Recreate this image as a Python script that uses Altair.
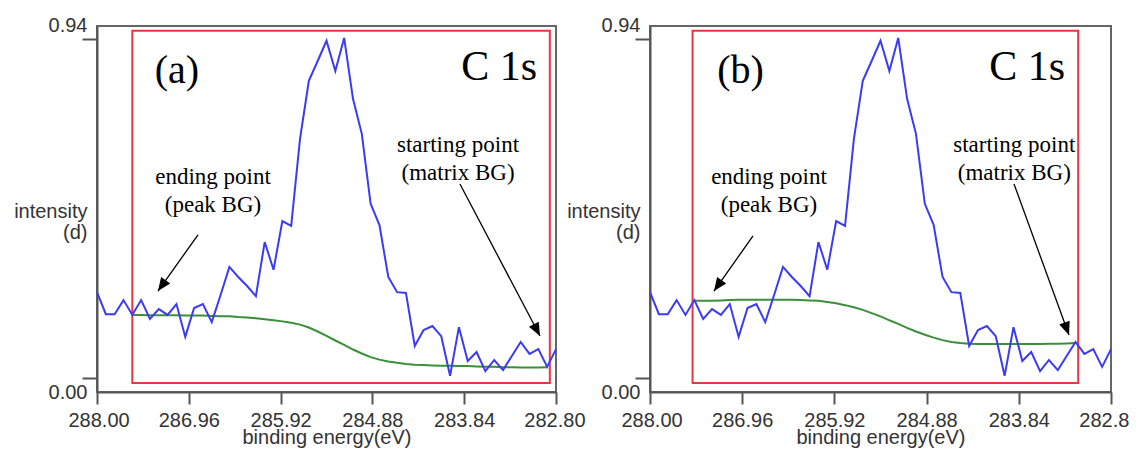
import math
import altair as alt
import pandas as pd

# ---- data ----
energy = [288.0, 287.9, 287.8, 287.7, 287.6, 287.5, 287.4, 287.3, 287.2, 287.1,
          287.0, 286.9, 286.8, 286.7, 286.6, 286.5, 286.4, 286.3, 286.2, 286.1,
          286.0, 285.9, 285.8, 285.7, 285.6, 285.5, 285.4, 285.3, 285.2, 285.1,
          285.0, 284.9, 284.8, 284.7, 284.6, 284.5, 284.4, 284.3, 284.2, 284.1,
          284.0, 283.9, 283.8, 283.7, 283.6, 283.5, 283.4, 283.3, 283.2, 283.1,
          283.0, 282.9, 282.8]
intensity = [0.238, 0.177, 0.177, 0.216, 0.175, 0.216, 0.164, 0.191, 0.175, 0.205,
             0.114, 0.194, 0.205, 0.155, 0.230, 0.308, 0.280, 0.255, 0.227, 0.377,
             0.300, 0.435, 0.422, 0.663, 0.824, 0.879, 0.935, 0.851, 0.943, 0.774,
             0.677, 0.483, 0.424, 0.280, 0.238, 0.236, 0.089, 0.133, 0.144, 0.116,
             0.006, 0.141, 0.047, 0.072, 0.019, 0.050, 0.022, 0.061, 0.100, 0.067,
             0.080, 0.031, 0.080]

# background (a): from 287.6 to 282.9 eV
bg_a_energy = energy[4:52]
bg_a = [0.175, 0.175, 0.174, 0.174, 0.174, 0.174, 0.173, 0.173, 0.173, 0.172,
        0.171, 0.171, 0.169, 0.168, 0.166, 0.163, 0.160, 0.157, 0.153, 0.148,
        0.140, 0.129, 0.117, 0.104, 0.092, 0.079, 0.068, 0.058, 0.051, 0.046,
        0.042, 0.039, 0.037, 0.036, 0.035, 0.034, 0.034, 0.033, 0.033, 0.032,
        0.031, 0.031, 0.030, 0.030, 0.029, 0.029, 0.029, 0.030]
# background (b): from 287.5 to 283.2 eV
bg_b_energy = energy[5:49]
bg_b = [0.214, 0.214, 0.214, 0.215, 0.216, 0.217, 0.217, 0.217, 0.217, 0.217,
        0.217, 0.217, 0.216, 0.215, 0.214, 0.211, 0.207, 0.202, 0.196, 0.189,
        0.180, 0.171, 0.160, 0.150, 0.139, 0.129, 0.120, 0.112, 0.105, 0.100,
        0.097, 0.095, 0.094, 0.094, 0.094, 0.094, 0.094, 0.094, 0.094, 0.094,
        0.095, 0.095, 0.096, 0.097]

x_ticks = [288.00, 286.96, 285.92, 284.88, 283.84, 282.80]
y_ticks = [0.00, 0.94]

range_a = [287.60, 282.87]
range_b = [287.52, 283.17]
range_I = [-0.014, 0.963]

panel_tags = ["(a)", "(b)"]
tag_E = [287.094, 286.979]
tag_I = [0.851, 0.851]
element = "C 1s"
element_E = [283.015, 283.319]
element_I = [0.862, 0.862]
notes = ["ending point\n(peak BG)", "starting point\n(matrix BG)"]
notes_E_a = [286.686, 283.910]
notes_E_b = [286.658, 283.891]
notes_I = [0.557, 0.647]

arrow_a_from_E = [286.856, 283.888]
arrow_a_from_I = [0.397, 0.538]
arrow_a_to_E = [287.309, 282.981]
arrow_a_to_I = [0.241, 0.1165]
arrow_b_from_E = [286.838, 283.894]
arrow_b_from_I = [0.394, 0.538]
arrow_b_to_E = [287.278, 283.274]
arrow_b_to_I = [0.241, 0.119]

# ---- styling ----
X_DOMAIN = [282.8, 288.0]
Y_DOMAIN = [-0.0388, 0.976]
PLOT_H = 366
BLUE = "#3b3bf2"
GREEN = "#3a8f3a"
RED = "#ee3344"
SANS = "Liberation Sans"
SERIF = "Liberation Serif"
ARROW_PATH = "M0,0L-0.42,1L0.42,1Z"


def build_panel(width, bg_E, bg_I, rng, tag, tE, tI, eE, eI, nE, aFE, aFI, aTE, aTI):
    xs = alt.Scale(domain=X_DOMAIN, reverse=True, nice=False, zero=False)
    ys = alt.Scale(domain=Y_DOMAIN, nice=False, zero=False)
    x_axis = alt.Axis(values=x_ticks, format=".2f", title="binding energy(eV)",
                      tickSize=12, labelPadding=6, titlePadding=-3,
                      labelFlush=True, labelFlushOffset=29,
                      labelOverlap=False, grid=False)
    y_axis = alt.Axis(values=y_ticks, format=".2f", title=["intensity", "(d)"],
                      titleAngle=0, titleAlign="right", titleBaseline="alphabetic",
                      titleX=-10, titleY=191, titleLineHeight=21,
                      tickSize=15, labelPadding=-5, labelBaseline="middle",
                      labelOffset={"condition": {"test": "datum.value > 0.5", "value": -13},
                                   "value": 14},
                      labelFlush=False, labelOverlap=False, grid=False)
    X = lambda f: alt.X(f, type="quantitative", scale=xs, axis=x_axis)
    Y = lambda f: alt.Y(f, type="quantitative", scale=ys, axis=y_axis)

    spec_df = pd.DataFrame({"E": energy, "I": intensity})
    bg_df = pd.DataFrame({"E": bg_E, "I": bg_I})
    rect_df = pd.DataFrame({"E": [rng[0]], "E2": [rng[1]], "I": [range_I[0]], "I2": [range_I[1]]})

    px_E = width / (X_DOMAIN[1] - X_DOMAIN[0])
    px_I = PLOT_H / (Y_DOMAIN[1] - Y_DOMAIN[0])
    angles = []
    for fe, fi, te, ti in zip(aFE, aFI, aTE, aTI):
        dx = (fe - te) * px_E
        dy = (fi - ti) * px_I
        angles.append(math.degrees(math.atan2(dx, -dy)) % 360)
    arr_df = pd.DataFrame({"E": aFE, "I": aFI, "E2": aTE, "I2": aTI, "ang": angles})
    tip_df = pd.DataFrame({"E": aTE, "I": aTI, "ang": angles})

    tag_df = pd.DataFrame({"E": [tE], "I": [tI], "t": [tag]})
    el_df = pd.DataFrame({"E": [eE], "I": [eI], "t": [element]})
    note_df = pd.DataFrame({"E": nE, "I": notes_I, "t": notes})

    rect = alt.Chart(rect_df).mark_rect(fill="transparent", stroke=RED, strokeWidth=2).encode(
        x=X("E"), x2="E2", y=Y("I"), y2="I2")
    green = alt.Chart(bg_df).mark_line(color=GREEN, strokeWidth=2).encode(x=X("E"), y=Y("I"))
    blue = alt.Chart(spec_df).mark_line(color=BLUE, strokeWidth=2).encode(x=X("E"), y=Y("I"))
    rules = alt.Chart(arr_df).mark_rule(color="black", strokeWidth=1.3).encode(
        x=X("E"), x2="E2", y=Y("I"), y2="I2")
    heads = alt.Chart(tip_df).mark_point(shape=ARROW_PATH, filled=True, color="black",
                                         opacity=1, size=700).encode(
        x=X("E"), y=Y("I"), angle=alt.Angle("ang:Q", scale=None))
    tag_t = alt.Chart(tag_df).mark_text(font=SERIF, fontSize=40, align="center",
                                        baseline="middle", color="black").encode(
        x=X("E"), y=Y("I"), text="t:N")
    el_t = alt.Chart(el_df).mark_text(font=SERIF, fontSize=42, align="right",
                                      baseline="middle", color="black").encode(
        x=X("E"), y=Y("I"), text="t:N")
    note_t = alt.Chart(note_df).mark_text(font=SERIF, fontSize=23, align="center",
                                          baseline="middle", lineBreak="\n",
                                          lineHeight=28, color="black").encode(
        x=X("E"), y=Y("I"), text="t:N")
    return alt.layer(rect, green, blue, rules, heads, tag_t, el_t, note_t).properties(
        width=width, height=PLOT_H)


panel_a = build_panel(459, bg_a_energy, bg_a, range_a, panel_tags[0], tag_E[0], tag_I[0],
                      element_E[0], element_I[0], notes_E_a,
                      arrow_a_from_E, arrow_a_from_I, arrow_a_to_E, arrow_a_to_I)
panel_b = build_panel(461, bg_b_energy, bg_b, range_b, panel_tags[1], tag_E[1], tag_I[1],
                      element_E[1], element_I[1], notes_E_b,
                      arrow_b_from_E, arrow_b_from_I, arrow_b_to_E, arrow_b_to_I)

chart = alt.hconcat(panel_a, panel_b, spacing=94, bounds="flush").properties(
    padding={"left": 4, "top": 6, "right": -11, "bottom": 0},
    background="white",
).configure_view(stroke="#666666", strokeWidth=2).configure_axis(
    labelFont=SANS, titleFont=SANS, labelFontSize=20, titleFontSize=20,
    titleFontWeight="normal", labelColor="#333333", titleColor="#333333",
    domainColor="#555555", domainWidth=2, tickColor="#555555", tickWidth=2,
)

chart.save("out.html", embed_options={"renderer": "svg", "actions": False})
